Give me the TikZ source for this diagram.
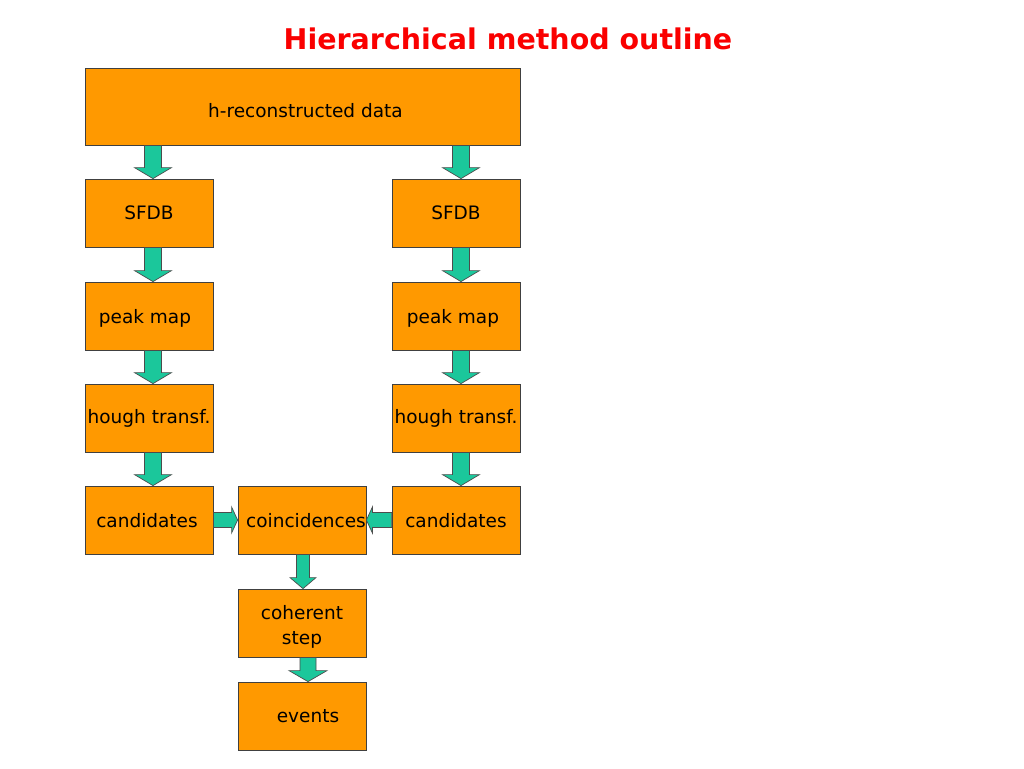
\documentclass[tikz,border=0pt]{standalone}
\usepackage{fontspec}
\setmainfont{DejaVu Sans}
\usetikzlibrary{calc}

\definecolor{kastenorange}{HTML}{FF9900}
\definecolor{pfeilgruen}{HTML}{1BC79B}
\definecolor{titelrot}{HTML}{FA0000}

\newcommand\runter[2]{\raisebox{-#1}[\height][\depth]{#2}}

\tikzset{
  kasten/.style={draw=black!75, line width=0.8pt, fill=kastenorange, minimum width=128, minimum height=68, inner sep=0pt, font=\fontsize{18.5}{25}\selectfont},
  blockpfeil/.style={draw=black!70, line width=0.7pt, fill=pfeilgruen, line join=miter}
}

% [x-Versatz] from, to, halbe Schaftbreite, halbe Spitzenbreite
\newcommand\dickpfeilrunter[5][0]{%
  \draw[blockpfeil] let \p1=(#2.south), \p2=($(#3.north)+(#1pt,0)$) in
    (\x2-#4pt,\y1) -- (\x2+#4pt,\y1) -- (\x2+#4pt,\y2+11pt) -- (\x2+#5pt,\y2+11pt)
    -- (\x2,\y2) -- (\x2-#5pt,\y2+11pt) -- (\x2-#4pt,\y2+11pt) -- cycle;}
\newcommand\dickpfeilquer[4]{%
  \draw[blockpfeil] let \p1=(#1), \p2=(#2), \p3=($(\p2)!6pt!(\p1)$) in
    (\x1,\y1-#3pt) -- (\x3,\y1-#3pt) -- (\x3,\y1-#4pt) -- (\x2,\y1)
    -- (\x3,\y1+#4pt) -- (\x3,\y1+#3pt) -- (\x1,\y1+#3pt) -- cycle;}

\begin{document}
\begin{tikzpicture}[x=1pt, y=-1pt]
            \useasboundingbox[fill=white] (0,0) rectangle (1024,768);

            \node[anchor=base, text=titelrot, font=\fontsize{28.5}{34}\selectfont\bfseries] (titel) at (508,49) {Hierarchical method outline};

            \node[kasten, minimum width=435, minimum height=77] (daten) at (302.5,106.5) {\runter{4pt}{\hspace{6pt}h-reconstructed data}};
            \node[kasten] (sfdbL) at (149,213) {SFDB};
            \node[kasten] (sfdbR) at (456,213) {SFDB};
            \node[kasten] (peakL) at (149,316) {\runter{2pt}{peak map\hspace{8pt}}};
            \node[kasten] (peakR) at (456,316) {\runter{2pt}{peak map\hspace{6pt}}};
            \node[kasten] (houghL) at (149,418) {hough transf.};
            \node[kasten] (houghR) at (456,418) {hough transf.};
            \node[kasten] (kandL) at (149,520) {\runter{1pt}{candidates\hspace{4pt}}};
            \node[kasten] (kandR) at (456,520) {\runter{1pt}{candidates}};
            \node[kasten] (koinz) at (302,520) {\runter{1pt}{\hspace{8pt}coincidences}};
            \node[kasten] (kohaerent) at (302,623) {\runter{4pt}{\begin{tabular}{@{}c@{}}coherent\\step\end{tabular}}};
            \node[kasten] (events) at (302,716) {\hspace{12pt}events};

            % Pfeile
            \foreach \a/\b/\s in {daten/sfdbL/4, sfdbL/peakL/4, peakL/houghL/4, houghL/kandL/4,
                                  daten/sfdbR/5, sfdbR/peakR/5, peakR/houghR/5, houghR/kandR/5}
                \dickpfeilrunter[\s]{\a}{\b}{8.5}{18.5};
            \dickpfeilrunter[1]{koinz}{kohaerent}{6.5}{13}
            \dickpfeilrunter[6]{kohaerent}{events}{8}{19}
            \dickpfeilquer{kandL.east}{koinz.west}{7.5}{13}
            \dickpfeilquer{kandR.west}{koinz.east}{7.5}{13}
\end{tikzpicture}
\end{document}
